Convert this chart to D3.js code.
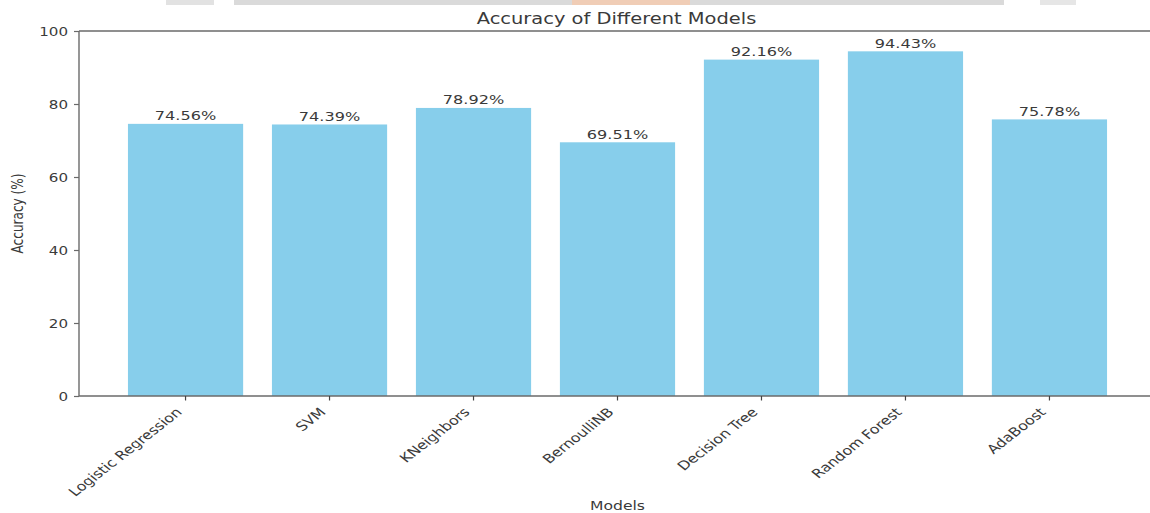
<!DOCTYPE html>
<html>
<head>
<meta charset="utf-8">
<script src="https://cdn.jsdelivr.net/npm/d3@7"></script>
<style>
  html, body { margin: 0; padding: 0; background: #fff; }
  svg { display: block; font-family: "DejaVu Sans", sans-serif; }
</style>
</head>
<body>
<svg id="chart" width="1150" height="513"></svg>
<script>
// Model accuracy results (%)
const models = ["Logistic Regression", "SVM", "KNeighbors", "BernoulliNB", "Decision Tree", "Random Forest", "AdaBoost"];
const accuracy = [74.56, 74.39, 78.92, 69.51, 92.16, 94.43, 75.78];
const yTicks = [0, 20, 40, 60, 80, 100];

const W = 1150, H = 513;
const plot = { left: 79, right: 1156, top: 31, bottom: 396 };
const stretch = 1.28;           // horizontal glyph stretch of the figure
const textColor = "#3a3a3a";
const spineColor = "#6a6a6a";

const svg = d3.select("#chart");

// Header strip
const strip = svg.append("g");
strip.append("rect").attr("x", 166).attr("y", 0).attr("width", 48).attr("height", 5).attr("fill", "#e2e2e2");
strip.append("rect").attr("x", 234).attr("y", 0).attr("width", 770).attr("height", 5).attr("fill", "#dadada");
strip.append("rect").attr("x", 572).attr("y", 0).attr("width", 118).attr("height", 5).attr("fill", "#f0cdb6");
strip.append("rect").attr("x", 1040).attr("y", 0).attr("width", 36).attr("height", 5).attr("fill", "#e6e6e6");

const x = d3.scaleBand()
  .domain(models)
  .range([plot.left, plot.right])
  .paddingInner(0.2)
  .paddingOuter(0.34);

const y = d3.scaleLinear()
  .domain([0, 100])
  .range([plot.bottom, plot.top]);

// Bars
svg.append("g")
  .selectAll("rect")
  .data(models)
  .join("rect")
  .attr("x", d => x(d))
  .attr("y", (d, i) => y(accuracy[i]))
  .attr("width", x.bandwidth())
  .attr("height", (d, i) => y(0) - y(accuracy[i]))
  .attr("fill", "#87CEEB");

// Value labels above bars
svg.append("g")
  .selectAll("text")
  .data(models)
  .join("text")
  .attr("transform", (d, i) => `translate(${x(d) + x.bandwidth() / 2},${y(accuracy[i]) - 3.5}) scale(${stretch},1)`)
  .attr("text-anchor", "middle")
  .attr("font-size", 12.6)
  .attr("fill", textColor)
  .text((d, i) => accuracy[i].toFixed(2) + "%");

// Spines (left, top, bottom)
const spines = svg.append("g").attr("stroke", spineColor).attr("stroke-width", 1.4).attr("fill", "none");
spines.append("line").attr("x1", plot.left).attr("x2", plot.left).attr("y1", plot.top).attr("y2", plot.bottom);
spines.append("line").attr("x1", plot.left).attr("x2", plot.right).attr("y1", plot.top).attr("y2", plot.top);
spines.append("line").attr("x1", plot.left).attr("x2", plot.right).attr("y1", plot.bottom).attr("y2", plot.bottom);
spines.append("line").attr("x1", plot.right).attr("x2", plot.right).attr("y1", plot.top).attr("y2", plot.bottom);

// Y axis
const yAxis = svg.append("g")
  .attr("transform", `translate(${plot.left},0)`)
  .call(d3.axisLeft(y).tickValues(yTicks).tickSize(5).tickPadding(6).tickFormat(d3.format("d")));
yAxis.select(".domain").remove();
yAxis.selectAll(".tick line").attr("stroke", spineColor).attr("stroke-width", 1.2);
yAxis.selectAll(".tick text")
  .attr("font-size", 11.8)
  .attr("font-family", "DejaVu Sans, sans-serif")
  .attr("fill", textColor)
  .attr("x", null)
  .attr("dy", "0.36em")
  .attr("transform", `translate(-11,0) scale(${stretch},1)`);

// X axis
const xAxis = svg.append("g")
  .attr("transform", `translate(0,${plot.bottom})`)
  .call(d3.axisBottom(x).tickSize(4.5).tickPadding(4));
xAxis.select(".domain").remove();
xAxis.selectAll(".tick line").attr("stroke", "#444").attr("stroke-width", 1.2);
xAxis.selectAll(".tick text")
  .attr("font-size", 12.4)
  .attr("font-family", "DejaVu Sans, sans-serif")
  .attr("fill", textColor)
  .attr("y", null)
  .attr("dy", null)
  .attr("text-anchor", "end")
  .attr("transform", `translate(-2.8,17) scale(${stretch},1) rotate(-45)`);

// Title
svg.append("text")
  .attr("transform", `translate(${(plot.left + plot.right) / 2 - 1},24) scale(${stretch},1)`)
  .attr("text-anchor", "middle")
  .attr("font-size", 15.2)
  .attr("fill", textColor)
  .text("Accuracy of Different Models");

// Axis labels
svg.append("text")
  .attr("transform", `translate(${(plot.left + plot.right) / 2},510) scale(${stretch},1)`)
  .attr("text-anchor", "middle")
  .attr("font-size", 12.2)
  .attr("fill", textColor)
  .text("Models");

svg.append("text")
  .attr("transform", `translate(23,${(plot.top + plot.bottom) / 2}) scale(${stretch},1) rotate(-90)`)
  .attr("text-anchor", "middle")
  .attr("font-size", 12.1)
  .attr("fill", textColor)
  .text("Accuracy (%)");
</script>
</body>
</html>
